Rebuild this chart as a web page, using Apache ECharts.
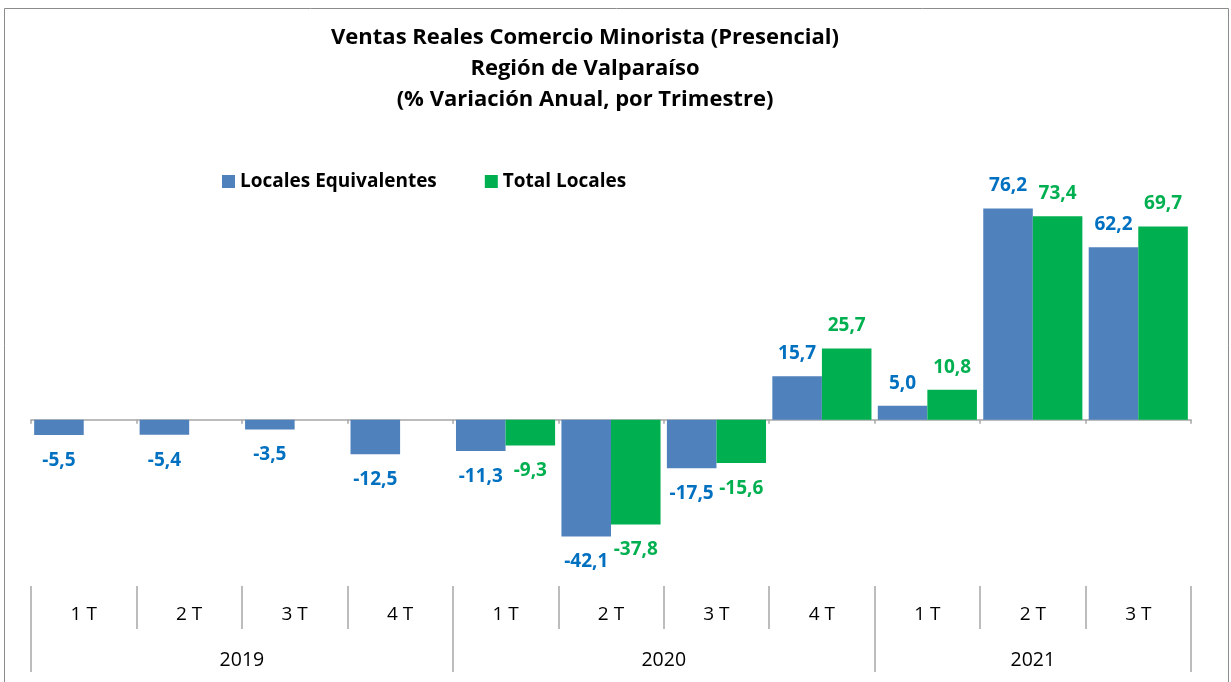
<!DOCTYPE html>
<html>
<head>
<meta charset="utf-8">
<script src="https://cdn.jsdelivr.net/npm/echarts@6/dist/echarts.min.js"></script>
<style>
  html, body { margin: 0; padding: 0; background: #fff; }
  #main { width: 1231px; height: 682px; }
</style>
</head>
<body>
<div id="main"></div>
<script>
const quarters = ['1 T', '2 T', '3 T', '4 T', '1 T', '2 T', '3 T', '4 T', '1 T', '2 T', '3 T'];
const years = ['2019', '2020', '2021'];
const quartersPerYear = [4, 4, 3];
const equivalentes = [-5.5, -5.4, -3.5, -12.5, -11.3, -42.1, -17.5, 15.7, 5.0, 76.2, 62.2];
const totales = [null, null, null, null, -9.3, -37.8, -15.6, 25.7, 10.8, 73.4, 69.7];

// category names for the main axis (year + quarter)
const categories = [];
const yearStart = [];
const yearCenter = {};
let k = 0;
years.forEach((y, i) => {
  yearStart.push(k);
  yearCenter[k + quartersPerYear[i] / 2] = y;
  for (let j = 0; j < quartersPerYear[i]; j++) {
    categories.push(y + ' ' + quarters[k]);
    k++;
  }
});

const font = 'Open Sans';
const fmt = p => p.value == null ? '' : p.value.toFixed(1).replace('.', ',');
const lineGrey = '#a6a6a6';

// negative labels sit a bit further from the bar end
const withDist = arr => arr.map(v => (v != null && v < 0) ? { value: v, label: { distance: 16 } } : v);

const chart = echarts.init(document.getElementById('main'));

const option = {
  backgroundColor: '#fff',
  animation: false,
  title: {
    text: 'Ventas Reales Comercio Minorista (Presencial)\nRegión de Valparaíso\n(% Variación Anual, por Trimestre)',
    left: 585,
    top: 22,
    padding: 0,
    textAlign: 'center',
    textStyle: {
      fontFamily: font,
      fontSize: 22,
      fontWeight: 'bold',
      color: '#000',
      lineHeight: 31
    }
  },
  legend: {
    left: 222,
    top: 172,
    padding: 0,
    itemWidth: 13,
    itemHeight: 13,
    itemGap: 48,
    icon: 'rect',
    textStyle: { fontFamily: font, fontSize: 19, fontWeight: 'bold', color: '#000' },
    data: ['Locales Equivalentes', 'Total Locales']
  },
  grid: [
    { left: 31, right: 40, top: 198, bottom: 96 },
    { left: 31, right: 40, top: 586, height: 43 },
    { left: 31, right: 40, top: 629, height: 43 },
    { left: 31, right: 40, top: 600, height: 42 }
  ],
  xAxis: [
    {
      type: 'category',
      gridIndex: 0,
      data: categories,
      axisLine: { lineStyle: { color: lineGrey, width: 1.5 } },
      axisTick: { show: true, length: 4, lineStyle: { color: lineGrey, width: 1.5 } },
      axisLabel: { show: false }
    },
    {
      type: 'category',
      gridIndex: 1,
      data: quarters,
      axisLine: { show: false },
      axisTick: { show: false },
      axisLabel: {
        inside: true,
        margin: 5,
        fontFamily: font,
        fontSize: 19,
        color: '#000',
        interval: 0
      },
      splitLine: { show: true, lineStyle: { color: lineGrey, width: 1.5 } }
    },
    {
      type: 'category',
      gridIndex: 2,
      data: categories,
      axisLine: { show: false },
      axisTick: { show: false },
      axisLabel: { show: false },
      splitLine: {
        show: true,
        interval: idx => yearStart.indexOf(idx) !== -1,
        lineStyle: { color: lineGrey, width: 1.5 }
      }
    },
    {
      type: 'value',
      gridIndex: 3,
      min: 0,
      max: categories.length,
      interval: 0.5,
      axisLine: { show: false },
      axisTick: { show: false },
      splitLine: { show: false },
      axisLabel: {
        margin: 8,
        fontFamily: font,
        fontSize: 19.5,
        color: '#000',
        formatter: v => yearCenter[v] || ''
      }
    }
  ],
  yAxis: [
    { type: 'value', gridIndex: 0, min: -60, max: 80, show: false },
    { type: 'value', gridIndex: 1, min: 0, max: 1, show: false },
    { type: 'value', gridIndex: 2, min: 0, max: 1, show: false },
    { type: 'value', gridIndex: 3, min: 0, max: 1, show: false }
  ],
  series: [
    {
      name: 'Locales Equivalentes',
      type: 'bar',
      data: withDist(equivalentes),
      barGap: '0%',
      barCategoryGap: '6%',
      itemStyle: { color: '#4F81BD' },
      label: {
        show: true,
        position: 'outside',
        distance: 13,
        formatter: fmt,
        fontFamily: font,
        fontSize: 19,
        fontWeight: 'bold',
        color: '#0070C0'
      }
    },
    {
      name: 'Total Locales',
      type: 'bar',
      data: withDist(totales),
      barGap: '0%',
      barCategoryGap: '6%',
      itemStyle: { color: '#00B050' },
      label: {
        show: true,
        position: 'outside',
        distance: 13,
        formatter: fmt,
        fontFamily: font,
        fontSize: 19,
        fontWeight: 'bold',
        color: '#00B050'
      }
    }
  ],
  graphic: [
    {
      type: 'rect',
      shape: { x: 4.5, y: 8.5, width: 1224, height: 690 },
      style: { fill: 'none', stroke: '#8c8c8c', lineWidth: 1 },
      silent: true
    }
  ]
};

chart.setOption(option);
</script>
</body>
</html>
